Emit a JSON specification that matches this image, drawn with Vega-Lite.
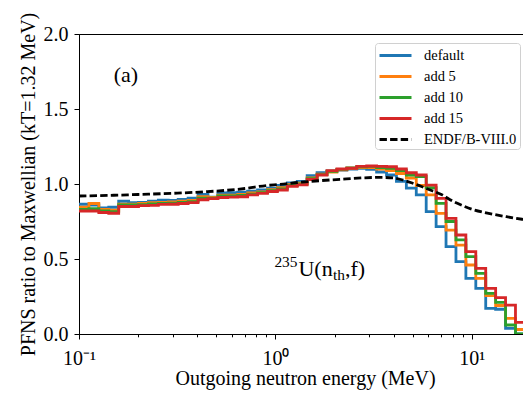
{
  "$schema": "https://vega.github.io/schema/vega-lite/v6.json",
  "width": 452,
  "height": 300,
  "autosize": {"type": "none"},
  "padding": {"left": 79, "top": 34, "right": 0, "bottom": 59},
  "config": {
    "font": "Liberation Serif",
    "view": {"stroke": "black", "strokeWidth": 1},
    "axis": {
      "labelFont": "Liberation Serif", "titleFont": "Liberation Serif",
      "labelFontSize": 20, "titleFontSize": 20, "titleFontWeight": "normal",
      "labelColor": "black", "titleColor": "black", "tickColor": "black",
      "domainColor": "black", "grid": false
    },
    "legend": {"labelFont": "Liberation Serif"}
  },
  "datasets": {
    "steps": [
      {"E": 0.1, "default": 0.865, "add 5": 0.845, "add 10": 0.83, "add 15": 0.82},
      {"E": 0.11234, "default": 0.86, "add 5": 0.87, "add 10": 0.835, "add 15": 0.82},
      {"E": 0.12618, "default": 0.84, "add 5": 0.83, "add 10": 0.82, "add 15": 0.81},
      {"E": 0.14175, "default": 0.845, "add 5": 0.825, "add 10": 0.815, "add 15": 0.805},
      {"E": 0.15922, "default": 0.885, "add 5": 0.865, "add 10": 0.86, "add 15": 0.85},
      {"E": 0.17886, "default": 0.875, "add 5": 0.865, "add 10": 0.86, "add 15": 0.85},
      {"E": 0.20091, "default": 0.878, "add 5": 0.87, "add 10": 0.863, "add 15": 0.856},
      {"E": 0.2257, "default": 0.885, "add 5": 0.875, "add 10": 0.867, "add 15": 0.858},
      {"E": 0.25351, "default": 0.893, "add 5": 0.878, "add 10": 0.87, "add 15": 0.864},
      {"E": 0.28478, "default": 0.89, "add 5": 0.88, "add 10": 0.872, "add 15": 0.865},
      {"E": 0.31989, "default": 0.897, "add 5": 0.885, "add 10": 0.877, "add 15": 0.87},
      {"E": 0.35934, "default": 0.905, "add 5": 0.89, "add 10": 0.883, "add 15": 0.876},
      {"E": 0.40365, "default": 0.93, "add 5": 0.915, "add 10": 0.905, "add 15": 0.895},
      {"E": 0.45342, "default": 0.912, "add 5": 0.91, "add 10": 0.905, "add 15": 0.902},
      {"E": 0.50933, "default": 0.94, "add 5": 0.925, "add 10": 0.92, "add 15": 0.91},
      {"E": 0.57213, "default": 0.942, "add 5": 0.925, "add 10": 0.92, "add 15": 0.912},
      {"E": 0.64269, "default": 0.945, "add 5": 0.93, "add 10": 0.924, "add 15": 0.915},
      {"E": 0.72194, "default": 0.952, "add 5": 0.94, "add 10": 0.933, "add 15": 0.927},
      {"E": 0.81096, "default": 0.96, "add 5": 0.948, "add 10": 0.943, "add 15": 0.938},
      {"E": 0.911, "default": 0.972, "add 5": 0.962, "add 10": 0.956, "add 15": 0.95},
      {"E": 1.02329, "default": 0.99, "add 5": 0.975, "add 10": 0.968, "add 15": 0.96},
      {"E": 1.14948, "default": 1.008, "add 5": 0.995, "add 10": 0.99, "add 15": 0.985},
      {"E": 1.29122, "default": 1.018, "add 5": 1.005, "add 10": 1.0, "add 15": 0.995},
      {"E": 1.45045, "default": 1.055, "add 5": 1.04, "add 10": 1.035, "add 15": 1.03},
      {"E": 1.6293, "default": 1.075, "add 5": 1.065, "add 10": 1.062, "add 15": 1.06},
      {"E": 1.83021, "default": 1.085, "add 5": 1.08, "add 10": 1.085, "add 15": 1.089},
      {"E": 2.05589, "default": 1.092, "add 5": 1.095, "add 10": 1.098, "add 15": 1.1},
      {"E": 2.30941, "default": 1.1, "add 5": 1.105, "add 10": 1.108, "add 15": 1.105},
      {"E": 2.59418, "default": 1.104, "add 5": 1.11, "add 10": 1.115, "add 15": 1.118},
      {"E": 2.91408, "default": 1.097, "add 5": 1.11, "add 10": 1.118, "add 15": 1.12},
      {"E": 3.27341, "default": 1.08, "add 5": 1.1, "add 10": 1.11, "add 15": 1.118},
      {"E": 3.67706, "default": 1.06, "add 5": 1.09, "add 10": 1.105, "add 15": 1.115},
      {"E": 4.13048, "default": 1.018, "add 5": 1.07, "add 10": 1.09, "add 15": 1.1},
      {"E": 4.63983, "default": 0.972, "add 5": 1.04, "add 10": 1.06, "add 15": 1.075},
      {"E": 5.21195, "default": 0.927, "add 5": 0.99, "add 10": 1.05, "add 15": 1.06},
      {"E": 5.85464, "default": 0.816, "add 5": 0.927, "add 10": 0.975, "add 15": 0.993},
      {"E": 6.57658, "default": 0.716, "add 5": 0.804, "add 10": 0.871, "add 15": 0.904},
      {"E": 7.38756, "default": 0.582, "add 5": 0.693, "add 10": 0.75, "add 15": 0.771},
      {"E": 8.29851, "default": 0.482, "add 5": 0.593, "add 10": 0.627, "add 15": 0.66},
      {"E": 9.32184, "default": 0.371, "add 5": 0.46, "add 10": 0.516, "add 15": 0.549},
      {"E": 10.4713, "default": 0.304, "add 5": 0.371, "add 10": 0.404, "add 15": 0.438},
      {"E": 11.7625, "default": 0.171, "add 5": 0.256, "add 10": 0.271, "add 15": 0.304},
      {"E": 13.213, "default": 0.165, "add 5": 0.19, "add 10": 0.211, "add 15": 0.242},
      {"E": 14.8424, "default": 0.038, "add 5": 0.104, "add 10": 0.06, "add 15": 0.193},
      {"E": 16.6725, "default": 0.0, "add 5": 0.03, "add 10": 0.0, "add 15": 0.078},
      {"E": 18.7284, "default": 0.0, "add 5": 0.03, "add 10": 0.0, "add 15": 0.078}
    ],
    "endf": [
      {"E": 0.1, "v": 0.92, "s": "ENDF/B-VIII.0"},
      {"E": 0.15, "v": 0.925, "s": "ENDF/B-VIII.0"},
      {"E": 0.2, "v": 0.93, "s": "ENDF/B-VIII.0"},
      {"E": 0.3, "v": 0.938, "s": "ENDF/B-VIII.0"},
      {"E": 0.45, "v": 0.949, "s": "ENDF/B-VIII.0"},
      {"E": 0.7, "v": 0.97, "s": "ENDF/B-VIII.0"},
      {"E": 0.9, "v": 0.99, "s": "ENDF/B-VIII.0"},
      {"E": 1.05, "v": 0.997, "s": "ENDF/B-VIII.0"},
      {"E": 1.3, "v": 1.01, "s": "ENDF/B-VIII.0"},
      {"E": 1.6, "v": 1.02, "s": "ENDF/B-VIII.0"},
      {"E": 1.9, "v": 1.027, "s": "ENDF/B-VIII.0"},
      {"E": 2.3, "v": 1.034, "s": "ENDF/B-VIII.0"},
      {"E": 2.8, "v": 1.041, "s": "ENDF/B-VIII.0"},
      {"E": 3.4, "v": 1.044, "s": "ENDF/B-VIII.0"},
      {"E": 4.0, "v": 1.04, "s": "ENDF/B-VIII.0"},
      {"E": 4.5, "v": 1.025, "s": "ENDF/B-VIII.0"},
      {"E": 5.0, "v": 1.005, "s": "ENDF/B-VIII.0"},
      {"E": 5.5, "v": 0.985, "s": "ENDF/B-VIII.0"},
      {"E": 6.0, "v": 0.965, "s": "ENDF/B-VIII.0"},
      {"E": 7.0, "v": 0.93, "s": "ENDF/B-VIII.0"},
      {"E": 8.0, "v": 0.885, "s": "ENDF/B-VIII.0"},
      {"E": 9.0, "v": 0.855, "s": "ENDF/B-VIII.0"},
      {"E": 10.0, "v": 0.832, "s": "ENDF/B-VIII.0"},
      {"E": 12.0, "v": 0.806, "s": "ENDF/B-VIII.0"},
      {"E": 15.0, "v": 0.782, "s": "ENDF/B-VIII.0"},
      {"E": 18.0, "v": 0.765, "s": "ENDF/B-VIII.0"},
      {"E": 20.0, "v": 0.757, "s": "ENDF/B-VIII.0"}
    ],
    "labels": [
      {"E": 0.1733, "v": 1.727, "t": "(a)"}
    ],
    "iso": [
      {"E": 1.31, "v": 0.387}
    ]
  },
  "layer": [
    {
      "data": {"name": "steps"},
      "transform": [{"fold": ["default", "add 5", "add 10", "add 15"], "as": ["s", "v"]}],
      "mark": {"type": "line", "interpolate": "step-after", "strokeWidth": 2.8, "clip": true},
      "encoding": {
        "x": {
          "field": "E", "type": "quantitative",
          "scale": {"type": "log", "domain": [0.1, 20], "nice": false},
          "axis": {
            "title": "Outgoing neutron energy (MeV)",
            "values": [0.1, 0.2, 0.3, 0.4, 0.5, 0.6, 0.7, 0.8, 0.9, 1, 2, 3, 4, 5, 6, 7, 8, 9, 10, 20],
            "labelExpr": "datum.value == 0.1 ? '10⁻¹' : datum.value == 1 ? '10⁰' : datum.value == 10 ? '10¹' : ''",
            "tickSize": {"condition": {"test": "datum.value == 0.1 || datum.value == 1 || datum.value == 10", "value": 5}, "value": 2.8},
            "labelPadding": 9,
            "labelFlush": false,
            "labelOverlap": false,
            "titlePadding": 0
          }
        },
        "y": {
          "field": "v", "type": "quantitative",
          "scale": {"domain": [0, 2], "nice": false},
          "axis": {
            "title": "PFNS ratio to Maxwellian (kT=1.32 MeV)",
            "values": [0, 0.5, 1, 1.5, 2],
            "format": ".1f",
            "tickSize": 5,
            "labelPadding": 6,
            "titlePadding": 5
          }
        },
        "color": {
          "field": "s", "type": "nominal",
          "scale": {
            "domain": ["default", "add 5", "add 10", "add 15", "ENDF/B-VIII.0"],
            "range": ["#1f77b4", "#ff7f0e", "#2ca02c", "#d62728", "#000000"]
          },
          "legend": {
            "title": null,
            "orient": "none",
            "legendX": 296,
            "legendY": 9,
            "labelFont": "Liberation Serif",
            "labelFontSize": 14.5,
            "labelColor": "black",
            "symbolType": "M-2,0H2",
            "symbolSize": 256,
            "symbolOffset": 8,
            "symbolStrokeWidth": 2.8,
            "padding": 3,
            "rowPadding": 5,
            "labelOffset": 19,
            "strokeColor": "#d0d0d0",
            "fillColor": "white",
            "cornerRadius": 3,
            "encode": {
              "symbols": {
                "update": {
                  "strokeDash": {"signal": "datum.value === 'ENDF/B-VIII.0' ? [7.4, 3.2] : [1, 0]"}
                }
              }
            }
          }
        }
      }
    },
    {
      "data": {"name": "endf"},
      "mark": {"type": "line", "interpolate": "monotone", "strokeWidth": 2.8, "strokeDash": [7.4, 3.2], "clip": true},
      "encoding": {
        "x": {"field": "E", "type": "quantitative"},
        "y": {"field": "v", "type": "quantitative"},
        "color": {"field": "s", "type": "nominal"}
      }
    },
    {
      "data": {"name": "labels"},
      "mark": {"type": "text", "font": "Liberation Serif", "fontSize": 22, "align": "center", "baseline": "middle", "color": "black"},
      "encoding": {
        "x": {"field": "E", "type": "quantitative"},
        "y": {"field": "v", "type": "quantitative"},
        "text": {"field": "t"}
      }
    },
    {
      "data": {"name": "iso"},
      "mark": {"type": "text", "font": "Liberation Serif", "fontSize": 15.4, "align": "right", "baseline": "alphabetic", "dx": -1, "dy": -9, "color": "black", "text": "235"},
      "encoding": {
        "x": {"field": "E", "type": "quantitative"},
        "y": {"field": "v", "type": "quantitative"}
      }
    },
    {
      "data": {"name": "iso"},
      "mark": {"type": "text", "font": "Liberation Serif", "fontSize": 22, "align": "left", "baseline": "alphabetic", "dx": 0, "color": "black", "text": "U(n"},
      "encoding": {
        "x": {"field": "E", "type": "quantitative"},
        "y": {"field": "v", "type": "quantitative"}
      }
    },
    {
      "data": {"name": "iso"},
      "mark": {"type": "text", "font": "Liberation Serif", "fontSize": 15.4, "align": "left", "baseline": "alphabetic", "dx": 34.5, "dy": 4, "color": "black", "text": "th"},
      "encoding": {
        "x": {"field": "E", "type": "quantitative"},
        "y": {"field": "v", "type": "quantitative"}
      }
    },
    {
      "data": {"name": "iso"},
      "mark": {"type": "text", "font": "Liberation Serif", "fontSize": 22, "align": "left", "baseline": "alphabetic", "dx": 46.5, "color": "black", "text": ",f)"},
      "encoding": {
        "x": {"field": "E", "type": "quantitative"},
        "y": {"field": "v", "type": "quantitative"}
      }
    }
  ]
}
